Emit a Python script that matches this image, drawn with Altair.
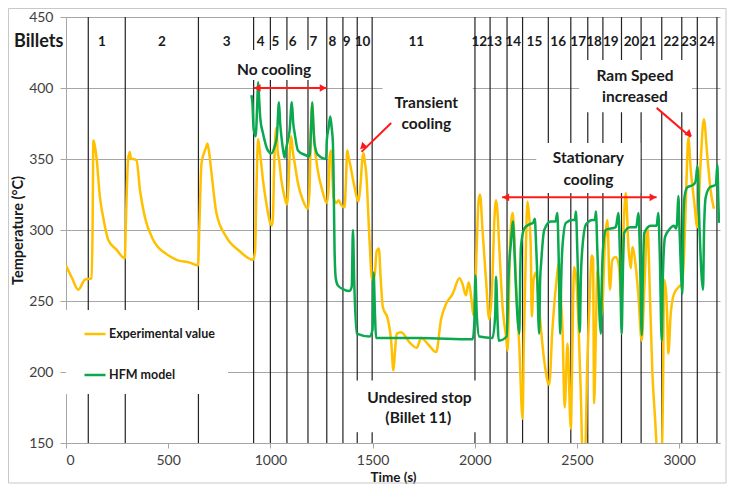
import altair as alt
import pandas as pd

ORANGE = "#FFC000"
GREEN = "#0AA84F"
RED = "#FF1A1A"
GRID = "#a6a6a6"
INK = "#1a1a1a"
FONT = "Lato"

# ---------------- data ----------------
exp_time = [0, 30, 60, 93, 125, 130, 134, 140, 150, 166, 182, 207, 248, 288, 292, 304, 312, 318, 329, 345,
            362, 386, 427, 492, 541, 606, 646, 652, 663, 685, 692, 700, 712, 736, 785, 850, 915, 925, 932, 940,
            951, 964, 980, 997, 1008, 1013, 1018, 1029, 1036, 1042, 1054, 1070, 1081, 1088, 1095, 1102, 1110, 1119,
            1135, 1159, 1184, 1192, 1198, 1205, 1210, 1216, 1232, 1254, 1276, 1285, 1290, 1298, 1303, 1309, 1322,
            1334, 1345, 1363, 1370, 1376, 1382, 1392, 1412, 1431, 1440, 1450, 1456, 1462, 1469, 1485, 1498, 1510,
            1520, 1531, 1540, 1550, 1575, 1591, 1602, 1610, 1618, 1640, 1680, 1716, 1738, 1775, 1811, 1835, 1860,
            1892, 1925, 1940, 1957, 1970, 1985, 1993, 2000, 2010, 2019, 2026, 2038, 2055, 2071, 2085, 2096, 2104,
            2110, 2120, 2136, 2153, 2161, 2167, 2172, 2185, 2192, 2201, 2218, 2234, 2240, 2247, 2258, 2266, 2274,
            2279, 2288, 2300, 2315, 2340, 2364, 2380, 2397, 2413, 2422, 2429, 2440, 2454, 2470, 2478, 2486, 2497,
            2508, 2519, 2527, 2540, 2551, 2562, 2572, 2579, 2584, 2593, 2600, 2610, 2622, 2635, 2649, 2661, 2673,
            2690, 2705, 2718, 2728, 2739, 2752, 2764, 2771, 2788, 2800, 2817, 2830, 2845, 2858, 2869, 2882, 2893,
            2915, 2922, 2926, 2935, 2942, 2947, 2959, 2975, 2999, 3013, 3025, 3035, 3045, 3057, 3073, 3089, 3105,
            3121, 3138, 3154, 3170]
exp_temp = [275, 266, 258, 265, 266, 300, 363, 360, 350, 323, 309, 293, 286, 280, 300, 350, 355, 350, 350, 349,
            328, 309, 293, 283, 279, 277, 275, 300, 347, 358, 361, 355, 340, 312, 295, 285, 279, 285, 330, 364,
            352, 335, 319, 306, 303, 310, 342, 372, 355, 350, 335, 323, 318, 330, 355, 366, 355, 347,
            333, 321, 315, 330, 370, 389, 375, 361, 342, 328, 319, 330, 352, 356, 340, 323, 319,
            321, 318, 316, 335, 356, 352, 345, 330, 320, 330, 350, 354, 348, 340, 293, 265, 268,
            285, 287, 265, 246, 237, 222, 201, 215, 227, 228, 221, 217, 224, 219, 214, 237, 248,
            255, 266, 262, 254, 263, 250, 240, 250, 290, 321, 325, 300, 265, 237, 260, 307, 321,
            315, 288, 246, 225, 215, 250, 288, 312, 300, 265, 218, 167, 220, 265, 320, 310, 288,
            239, 265, 270, 245, 208, 191, 230, 260, 277, 250, 232, 175, 220, 160, 220, 274, 265,
            232, 185, 145, 145, 208, 250, 282, 280, 178, 230, 272, 255, 240, 285, 307, 258, 279,
            281, 275, 250, 300, 326, 288, 273, 288, 274, 255, 222, 260, 302, 250, 200, 168, 145,
            145, 200, 265, 258, 237, 213, 241, 255, 260, 262, 285, 330, 365, 342, 321, 302, 347,
            378, 352, 328, 315]

hfm_time = [907, 912, 918, 928, 936, 940, 944, 951, 964, 988, 1005, 1021, 1032, 1042, 1048, 1054, 1065, 1070,
            1078, 1094, 1105, 1112, 1119, 1135, 1167, 1192, 1200, 1205, 1210, 1216, 1232, 1273, 1276, 1285, 1293,
            1300, 1306, 1310, 1314, 1320, 1330, 1360, 1387, 1398, 1404, 1410, 1423, 1485, 1500, 1505, 1512, 1517,
            1729, 1990, 1998, 2003, 2010, 2022, 2087, 2100, 2104, 2112, 2117, 2156, 2165, 2169, 2177, 2188, 2193,
            2198, 2210, 2218, 2222, 2226, 2242, 2267, 2285, 2294, 2300, 2304, 2315, 2320, 2325, 2340, 2372, 2395,
            2404, 2410, 2418, 2423, 2429, 2446, 2478, 2490, 2495, 2502, 2514, 2519, 2527, 2545, 2576, 2588, 2593,
            2600, 2617, 2622, 2628, 2641, 2690, 2703, 2710, 2719, 2724, 2731, 2760, 2790, 2801, 2808, 2817, 2822,
            2830, 2860, 2890, 2898, 2905, 2915, 2920, 2931, 2950, 2975, 2985, 2990, 2996, 3002, 3016, 3020, 3026,
            3040, 3070, 3080, 3090, 3100, 3117, 3122, 3130, 3150, 3180, 3187, 3192, 3195]
hfm_temp = [395, 390, 371, 366, 390, 404, 395, 378, 368, 356, 354, 359, 366, 390, 375, 366, 354, 351,
            358, 370, 390, 375, 368, 356, 353, 352, 375, 390, 375, 361, 353, 350, 363, 372, 380,
            372, 361, 330, 286, 266, 261, 258, 257, 260, 300, 265, 227, 225, 230, 270, 240, 224,
            224, 223, 235, 268, 240, 225, 224, 240, 267, 235, 222, 225, 265, 277, 291, 306, 290,
            272, 237, 227, 265, 288, 301, 304, 305, 308, 290, 276, 227, 265, 277, 300, 306, 306,
            312, 285, 227, 265, 288, 305, 307, 307, 313, 285, 228, 265, 288, 304, 307, 307, 313,
            285, 227, 265, 288, 300, 302, 312, 285, 227, 265, 298, 302, 302, 312, 285, 226, 265,
            298, 303, 303, 312, 285, 222, 265, 295, 300, 303, 301, 305, 324, 300, 255, 300, 323,
            330, 332, 334, 345, 300, 258, 300, 323, 330, 332, 346, 320, 305]

series_names = ["Experimental value", "HFM model"]

billet_bounds = [109, 290, 648, 918, 1000, 1081, 1184, 1276, 1355, 1425, 1498, 2001, 2075, 2158, 2234,
                 2360, 2470, 2553, 2627, 2718, 2814, 2915, 3013, 3089, 3185]
billet_names = [str(i) for i in range(1, 25)]
billet_label_time = [176, 469, 786, 952, 1025, 1109, 1211, 1304, 1373, 1451, 1714, 2022, 2095, 2188, 2292,
                     2408, 2506, 2584, 2666, 2767, 2850, 2962, 3048, 3137]

notes_text = ["No cooling", "Transient", "cooling", "Stationary", "cooling", "Ram Speed", "increased",
              "Undesired stop", "(Billet 11)"]
notes_t = [1018, 1763, 1763, 2556, 2556, 2784, 2784, 1729, 1724]
notes_T = [412.7, 389.4, 374.6, 350.7, 335.2, 408.5, 393.7, 181.7, 167.6]

# white boxes behind the annotations (t1, t2, T1, T2)
box_t1 = [801, 1549, 1395, 2301, 2511]
box_t2 = [1251, 1990, 2030, 2810, 3063]
box_T1 = [405.6, 366.2, 157.5, 326.0, 383.0]
box_T2 = [426.8, 401.8, 194.0, 361.3, 419.7]

# red arrows (start t, start T, end t, end T)
arr_t1 = [918, 1591, 2134, 2890]
arr_T1 = [400, 375.4, 323, 386]
arr_t2 = [1276, 1446, 2890, 3056]
arr_T2 = [400, 355, 323, 365.5]

head_t = [936, 1258, 1451, 2152, 2872, 3050]
head_T = [400, 400, 358.5, 323, 323, 367.5]
head_angle = [270, 90, 225.6, 270, 90, 130.5]

# ---------------- frames ----------------
lines_df = pd.DataFrame({
    "t": exp_time + hfm_time,
    "T": exp_temp + hfm_temp,
    "series": [series_names[0]] * len(exp_time) + [series_names[1]] * len(hfm_time),
    "ord": list(range(len(exp_time))) + list(range(len(hfm_time))),
})
bounds_df = pd.DataFrame({"t": billet_bounds})
labels_df = pd.DataFrame({"t": billet_label_time, "name": billet_names, "T": [432.4] * len(billet_names)})
notes_df = pd.DataFrame({"t": notes_t, "T": notes_T, "txt": notes_text})
box_df = pd.DataFrame({"t1": box_t1, "t2": box_t2, "T1": box_T1, "T2": box_T2})
arr_df = pd.DataFrame({"t1": arr_t1, "t2": arr_t2, "T1": arr_T1, "T2": arr_T2})
head_df = pd.DataFrame({"t": head_t, "T": head_T, "ang": head_angle})
billets_df = pd.DataFrame({"t": [-254], "T": [432.4], "txt": ["Billets"]})

x_scale = alt.Scale(domain=[0, 3200], nice=False, zero=False)
y_scale = alt.Scale(domain=[150, 450], nice=False, zero=False)

x_axis = alt.Axis(values=list(range(0, 3001, 500)), format="d", title="Time (s)", grid=False,
                  domainColor=GRID, tickColor=GRID, tickSize=5, labelFont=FONT, labelFontSize=14,
                  labelColor="#404040", labelPadding=5, titleFont=FONT, titleFontSize=13.5,
                  titleFontWeight="bold", titleColor=INK, titlePadding=3)
y_axis = alt.Axis(values=list(range(150, 451, 50)), title="Temperature (°C)", grid=True, gridColor=GRID,
                  gridWidth=1, domainColor=GRID, tickColor=GRID, tickSize=6, labelFont=FONT,
                  labelFontSize=14, labelColor="#404040", labelPadding=7, titleFont=FONT, titleFontSize=14.5,
                  titleFontWeight="bold", titleColor=INK, titlePadding=3)


def X(field):
    return alt.X(f"{field}:Q", scale=x_scale, axis=x_axis)


def Y(field):
    return alt.Y(f"{field}:Q", scale=y_scale, axis=y_axis)


rules = alt.Chart(bounds_df).mark_rule(color="#222222", strokeWidth=1.2).encode(x=X("t"))

boxes = alt.Chart(box_df).mark_rect(fill="white").encode(
    x=X("t1"), x2="t2", y=Y("T1"), y2="T2")

lines = alt.Chart(lines_df).mark_line(strokeWidth=2.5, clip=True, interpolate="monotone").encode(
    x=X("t"), y=Y("T"), order="ord:Q",
    color=alt.Color("series:N", scale=alt.Scale(domain=series_names, range=[ORANGE, GREEN]),
                    legend=alt.Legend(orient="none", legendX=0, legendY=293, title=None,
                                      symbolType="stroke", symbolSize=441, symbolStrokeWidth=2.5,
                                      symbolOffset=5, fillColor="white", padding=12, rowPadding=22,
                                      labelFont=FONT, labelFontSize=12.5, labelFontWeight="bold",
                                      labelColor=INK, labelOffset=2)))

arrows = alt.Chart(arr_df).mark_rule(color=RED, strokeWidth=2).encode(
    x=X("t1"), x2="t2", y=Y("T1"), y2="T2")

heads = alt.Chart(head_df).mark_point(shape="triangle-up", filled=True, color=RED, size=60,
                                      opacity=1).encode(
    x=X("t"), y=Y("T"), angle=alt.Angle("ang:Q", scale=None))

notes = alt.Chart(notes_df).mark_text(font=FONT, fontSize=15.5, fontWeight="bold", color=INK,
                                      align="center", baseline="middle").encode(
    x=X("t"), y=Y("T"), text="txt:N")

blabels = alt.Chart(labels_df).mark_text(font=FONT, fontSize=13.5, fontWeight="bold", color=INK,
                                         align="center", baseline="middle").encode(
    x=X("t"), y=Y("T"), text="name:N")

billets = alt.Chart(billets_df).mark_text(font=FONT, fontSize=18, fontWeight="bold", color=INK,
                                          align="left", baseline="middle").encode(
    x=X("t"), y=Y("T"), text="txt:N")

frame = alt.Chart(pd.DataFrame({"k": [0]})).mark_rect(fillOpacity=0, stroke="#c8c8c8",
                                                       strokeWidth=1).encode(
    x=alt.value(-57.5), x2=alt.value(660), y=alt.value(-8.5), y2=alt.value(466))

chart = alt.layer(rules, boxes, lines, arrows, heads, notes, blabels, billets, frame).properties(
    width=654, height=426,
    padding={"left": 58, "top": 9, "right": 7, "bottom": 42},
    autosize=alt.AutoSizeParams(type="none"),
).configure_view(stroke=None)

chart.save("out.html", embed_options={"renderer": "svg", "actions": False})
